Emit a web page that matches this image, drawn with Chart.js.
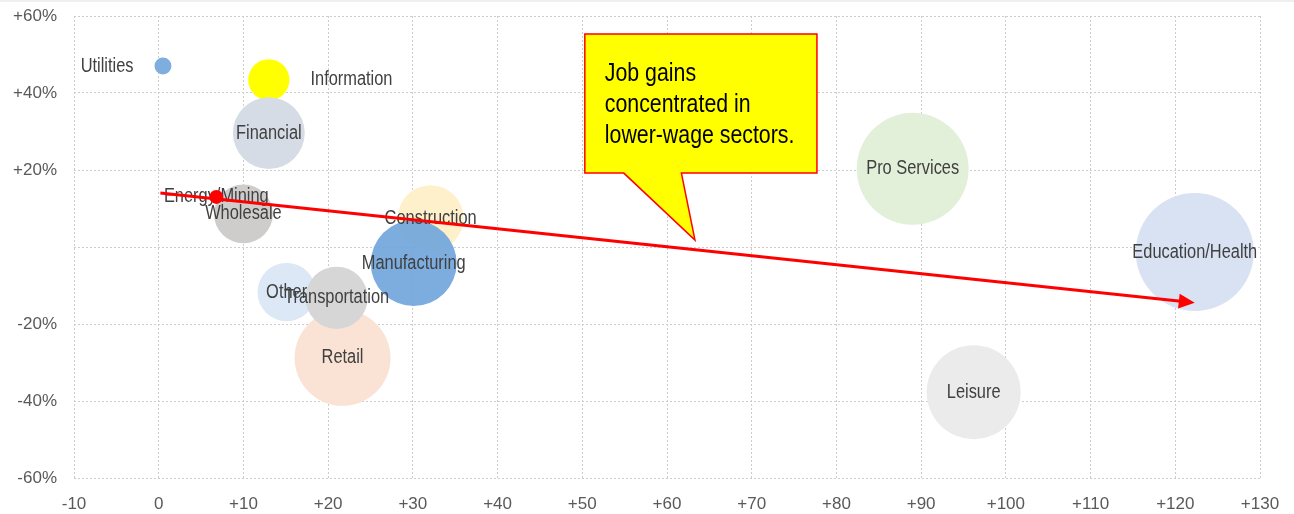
<!DOCTYPE html>
<html>
<head>
<meta charset="utf-8">
<script src="https://cdn.jsdelivr.net/npm/chart.js@4"></script>
<style>
  html, body { margin: 0; padding: 0; background: #ffffff; }
  #wrap { width: 1294px; height: 514px; position: relative; }
</style>
</head>
<body>
<div id="wrap"><canvas id="c" width="1294" height="514"></canvas></div>
<script>
// ---- data ----
const sectors   = ['Utilities','Information','Financial','Wholesale','Construction','Manufacturing','Other','Retail','Transportation','Pro Services','Education/Health','Leisure'];
const jobGain   = [0.5, 13, 13, 10, 32.1, 30.1, 15.1, 21.7, 21, 89, 122.3, 96.2];      // x: job change (thousands)
const wageGrowth= [47, 43.4, 29.6, 8.6, 7.5, -4.2, -11.7, -28.8, -13.2, 20.3, -1.3, -37.7]; // y: %
const employment= [0.49, 2.9, 8.8, 5.9, 7.4, 12.6, 5.8, 15.7, 6.6, 21.4, 23.8, 15.1];       // bubble size (millions)
const labelPos  = ['left','right','center','center','center','center','center','center','center','center','center','center'];
const sectorColors = ['#7eaede','#ffff00','#d5dce6','#cfcccc','#fff0cc','rgba(110,164,218,0.9)','#dce8f5','#fae3d4','#d6d6d6','#e2efd9','#d9e2f3','#ebebeb'];

const energyName = 'Energy/Mining';
const energyX = [6.8];
const energyY = [13];
const energyEmp = [0.33];

const xTicks = [-10,0,10,20,30,40,50,60,70,80,90,100,110,120,130];
const yTicks = [-60,-40,-20,0,20,40,60];

const trendArrow = { from: [0.2, 14], to: [122.3, -14.5] };
const calloutText = ['Job gains', 'concentrated in', 'lower-wage sectors.'];
const calloutBox = { x1: 50.3, x2: 77.7, yTop: 55.3, yBot: 19.2, tailX1: 54.9, tailX2: 61.7, tipX: 63.3, tipY: 1.8 };

// ---- chart ----
const K = 12.1; // pixel radius per sqrt(million jobs)
const rad = e => K * Math.sqrt(e);
const NARROW = 0.82; // horizontal condensing of text

const mainData = sectors.map((s, i) => ({ x: jobGain[i], y: wageGrowth[i], r: rad(employment[i]) }));
const energyData = energyX.map((x, i) => ({ x: x, y: energyY[i], r: rad(energyEmp[i]) }));

const LABEL_FONT = '20px "Liberation Sans", Arial, sans-serif';

function narrowText(ctx, text, x, y, align) {
  ctx.save();
  ctx.translate(x, y);
  ctx.scale(NARROW, 1);
  ctx.textAlign = align;
  ctx.fillText(text, 0, 0);
  ctx.restore();
}

function drawLabel(ctx, el, text, pos) {
  ctx.save();
  ctx.font = LABEL_FONT;
  ctx.fillStyle = '#404040';
  ctx.textBaseline = 'middle';
  const r = el.options.radius;
  if (pos === 'left') narrowText(ctx, text, el.x - r - 21, el.y, 'right');
  else if (pos === 'right') narrowText(ctx, text, el.x + r + 21, el.y, 'left');
  else narrowText(ctx, text, el.x, el.y, 'center');
  ctx.restore();
}

const overlayPlugin = {
  id: 'overlay',
  beforeDraw(chart) {
    const ctx = chart.ctx;
    ctx.save();
    ctx.fillStyle = '#efefef';
    ctx.fillRect(0, 0, chart.width, 2);
    ctx.restore();
  },
  afterDatasetDraw(chart, args) {
    const ctx = chart.ctx;
    if (args.index === 1) {
      const meta = chart.getDatasetMeta(1);
      meta.data.forEach((el, i) => drawLabel(ctx, el, sectors[i], labelPos[i]));
      const em = chart.getDatasetMeta(0);
      em.data.forEach((el) => drawLabel(ctx, el, energyName, 'center'));
    }
  },
  afterDatasetsDraw(chart) {
    const ctx = chart.ctx;
    const xs = chart.scales.x, ys = chart.scales.y;
    // trend arrow
    const x0 = xs.getPixelForValue(trendArrow.from[0]), y0 = ys.getPixelForValue(trendArrow.from[1]);
    const x1 = xs.getPixelForValue(trendArrow.to[0]),   y1 = ys.getPixelForValue(trendArrow.to[1]);
    const ang = Math.atan2(y1 - y0, x1 - x0);
    const headLen = 16, headW = 7.5;
    const bx = x1 - headLen * Math.cos(ang), by = y1 - headLen * Math.sin(ang);
    ctx.save();
    ctx.strokeStyle = '#ff0000';
    ctx.lineWidth = 3;
    ctx.beginPath(); ctx.moveTo(x0, y0); ctx.lineTo(bx + 2 * Math.cos(ang), by + 2 * Math.sin(ang)); ctx.stroke();
    ctx.fillStyle = '#ff0000';
    ctx.beginPath();
    ctx.moveTo(x1, y1);
    ctx.lineTo(bx - headW * Math.sin(ang), by + headW * Math.cos(ang));
    ctx.lineTo(bx + headW * Math.sin(ang), by - headW * Math.cos(ang));
    ctx.closePath(); ctx.fill();
    ctx.restore();

    // callout
    const L = xs.getPixelForValue(calloutBox.x1), R = xs.getPixelForValue(calloutBox.x2);
    const T = ys.getPixelForValue(calloutBox.yTop), B = ys.getPixelForValue(calloutBox.yBot);
    const t1 = xs.getPixelForValue(calloutBox.tailX1), t2 = xs.getPixelForValue(calloutBox.tailX2);
    const tx = xs.getPixelForValue(calloutBox.tipX), ty = ys.getPixelForValue(calloutBox.tipY);
    ctx.save();
    ctx.beginPath();
    ctx.moveTo(L, T); ctx.lineTo(R, T); ctx.lineTo(R, B);
    ctx.lineTo(t2, B); ctx.lineTo(tx, ty); ctx.lineTo(t1, B);
    ctx.lineTo(L, B); ctx.closePath();
    ctx.fillStyle = '#ffff00';
    ctx.fill();
    ctx.strokeStyle = '#ff0000';
    ctx.lineWidth = 1.5;
    ctx.stroke();
    ctx.fillStyle = '#000000';
    ctx.font = '26px "Liberation Sans", Arial, sans-serif';
    ctx.textBaseline = 'middle';
    calloutText.forEach((line, i) => narrowText(ctx, line, L + 20, T + 40 + i * 31, 'left'));
    ctx.restore();
  }
};

const gridOpts = { color: '#cccccc', lineWidth: 1, drawTicks: false };
const tickFont = { family: '"Liberation Sans", Arial, sans-serif', size: 17 };

new Chart(document.getElementById('c'), {
  type: 'bubble',
  data: {
    datasets: [
      { label: energyName, data: energyData, backgroundColor: '#ff0000', borderWidth: 0, clip: false },
      { label: 'Sectors', data: mainData, backgroundColor: sectorColors, borderWidth: 0, clip: false }
    ]
  },
  options: {
    responsive: false,
    animation: false,
    events: [],
    layout: { autoPadding: false, padding: { top: 16, right: 34, left: 0, bottom: 0 } },
    plugins: { legend: { display: false }, tooltip: { enabled: false } },
    scales: {
      x: {
        type: 'linear', min: -10, max: 130,
        afterBuildTicks: s => { s.ticks = xTicks.map(v => ({ value: v })); },
        ticks: { font: tickFont, color: '#595959', padding: 16, maxRotation: 0,
                 callback: v => (v > 0 ? '+' + v : '' + v) },
        grid: gridOpts,
        border: { display: false, dash: [2, 2] },
        afterFit: s => { s.height = 36; s.paddingLeft = 0; s.paddingRight = 0; }
      },
      y: {
        type: 'linear', min: -60, max: 60,
        afterBuildTicks: s => { s.ticks = yTicks.map(v => ({ value: v })); },
        ticks: { font: tickFont, color: '#595959', padding: 17,
                 callback: v => (v === 0 ? '' : (v > 0 ? '+' : '') + v + '%') },
        grid: gridOpts,
        border: { display: false, dash: [2, 2] },
        afterFit: s => { s.width = 74; s.paddingTop = 0; s.paddingBottom = 0; }
      }
    }
  },
  plugins: [overlayPlugin]
});
</script>
</body>
</html>
